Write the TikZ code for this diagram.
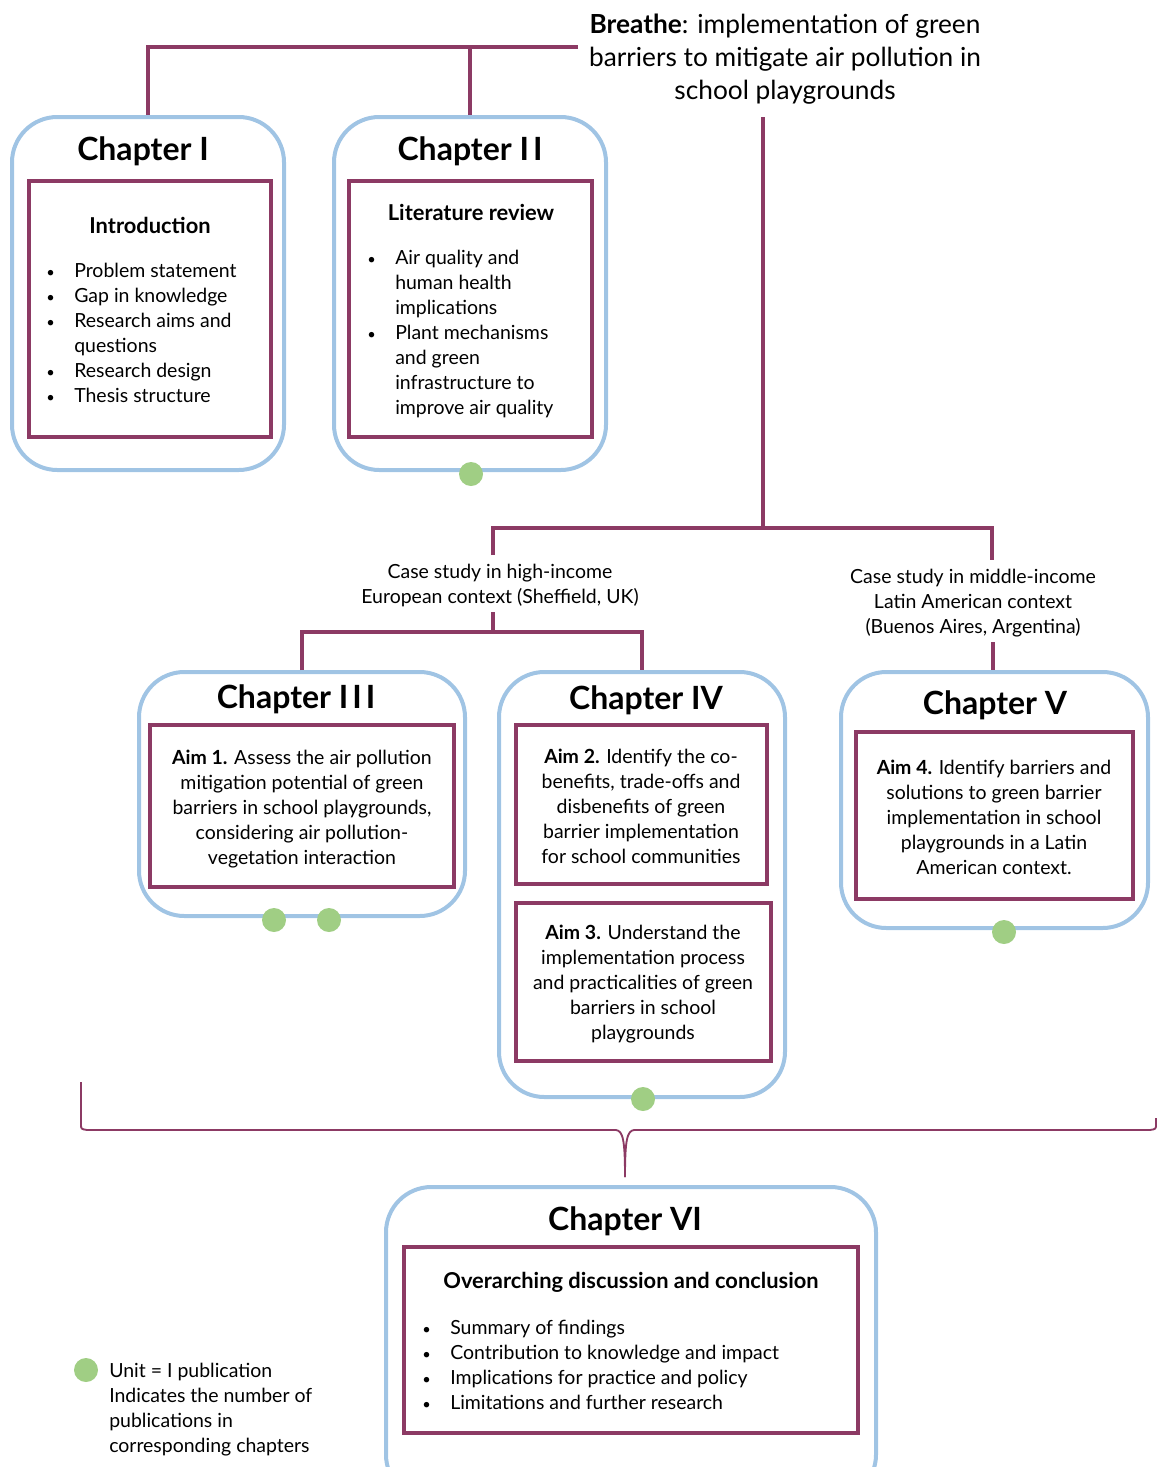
\documentclass[tikz,border=0pt]{standalone}
\usepackage{fontspec}
\setmainfont{Lato}
\usetikzlibrary{fit}
\definecolor{plum}{RGB}{140,58,100}
\definecolor{skyline}{RGB}{160,196,228}
\definecolor{leaf}{RGB}{160,206,132}
\newcommand{\bul}{\makebox[19.5pt][l]{\hspace{-1.5pt}{\fontsize{11}{11}\selectfont\textbullet}}}
\newcommand{\ind}{\hspace*{19.5pt}}
\begin{document}
\begin{tikzpicture}[x=0.75pt,y=-0.75pt,
  outerbox/.style={draw=skyline,line width=3pt,rounded corners=34pt,inner sep=0pt},
  innerbox/.style={draw=plum,line width=2.6pt,inner sep=0pt},
  conn/.style={draw=plum,line width=3pt},
  bracepath/.style={draw=plum,line width=1.4pt},
  pubdot/.style={circle,fill=leaf,minimum size=18pt,inner sep=0pt},
  chead/.style={font=\fontsize{24}{28}\selectfont\bfseries,inner sep=0pt},
  body/.style={font=\fontsize{14.6}{18.75}\selectfont,inner sep=0pt},
  bodyc/.style={body,align=center,anchor=north},
  bodyl/.style={body,align=left,anchor=north west},
  subhead/.style={font=\fontsize{16.4}{20}\selectfont\bfseries,inner sep=0pt}]
\useasboundingbox (0,0) rectangle (1157,1467);
\clip (0,0) rectangle (1157,1467);

% title
\node[font=\fontsize{19.7}{25}\selectfont,align=center,inner sep=0pt] (title) at (785,59)
  {\textbf{Breathe}: implementation of green\\barriers to mitigate air pollution in\\school playgrounds};

% chapter I
\node[outerbox,fit={(12,117) (284,470)}] (ch1) {};
\node[innerbox,fit={(29,181) (271,437)}] (in1) {};
\node[chead] (h1) at (143,151) {Chapter I};
\node[subhead] (s1) at (150,225) {Introduction};
\node[bodyl] (l1) at (48,263) {\bul Problem statement\\\bul Gap in knowledge\\\bul Research aims and\\\ind questions\\\bul Research design\\\bul Thesis structure};

% chapter II
\node[outerbox,fit={(334,117) (606,470)}] (ch2) {};
\node[innerbox,fit={(349,181) (592,437)}] (in2) {};
\node[chead] (h2) at (470,151) {Chapter I\kern3pt I};
\node[subhead] (s2) at (471,212) {Literature review};
\node[bodyl] (l2) at (369,250) {\bul Air quality and\\\ind human health\\\ind implications\\\bul Plant mechanisms\\\ind and green\\\ind infrastructure to\\\ind improve air quality};
\node[pubdot] (d2) at (471,474) {};

% chapter III
\node[outerbox,fit={(139,672) (465,916)}] (ch3) {};
\node[innerbox,fit={(150,725) (454,887)}] (in3) {};
\node[chead] (h3) at (296,699) {Chapter I\kern3pt I\kern3pt I};
\node[bodyc] (t3) at (302,750) {\textbf{Aim 1.} Assess the air pollution\\mitigation potential of green\\barriers in school playgrounds,\\considering air pollution-\\vegetation interaction};
\node[pubdot] (d3a) at (274,920) {};
\node[pubdot] (d3b) at (329,920) {};

% chapter IV
\node[outerbox,fit={(499,672) (785,1097)}] (ch4) {};
\node[innerbox,fit={(516,725) (767,884)}] (in4a) {};
\node[innerbox,fit={(516,903) (771,1061)}] (in4b) {};
\node[chead] (h4) at (646,700) {Chapter IV};
\node[bodyc] (t4a) at (641,749) {\textbf{Aim 2.} Identify the co-\\benefits, trade-offs and\\disbenefits of green\\barrier implementation\\for school communities};
\node[bodyc] (t4b) at (643,925) {\textbf{Aim 3.} Understand the\\implementation process\\and practicalities of green\\barriers in school\\playgrounds};
\node[pubdot] (d4) at (643,1099) {};

% chapter V
\node[outerbox,fit={(841,672) (1148,928)}] (ch5) {};
\node[innerbox,fit={(856,732) (1133,899)}] (in5) {};
\node[chead] (h5) at (995,705) {Chapter V};
\node[bodyc] (t5) at (994,760) {\textbf{Aim 4.} Identify barriers and\\solutions to green barrier\\implementation in school\\playgrounds in a Latin\\American context.};
\node[pubdot] (d5) at (1004,932) {};

% chapter VI
\node[outerbox,fit={(386,1187) (876,1500)}] (ch6) {};
\node[innerbox,fit={(404,1247) (858,1433)}] (in6) {};
\node[chead] (h6) at (625,1221) {Chapter VI};
\node[subhead] (s6) at (631,1282) {Overarching discussion and conclusion};
\node[bodyl] (l6) at (424,1320) {\bul Summary of findings\\\bul Contribution to knowledge and impact\\\bul Implications for practice and policy\\\bul Limitations and further research};

% case-study labels
\node[body,align=center] (cs1) at (500,585) {Case study in high-income\\European context (Sheffield, UK)};
\node[body,align=center] (cs2) at (973,603) {Case study in middle-income\\Latin American context\\(Buenos Aires, Argentina)};

% legend
\node[pubdot] (ld) at (86,1370) {};
\node[bodyl] (lt) at (109,1363) {Unit = I publication\\Indicates the number of\\publications in\\corresponding chapters};

% connectors
\coordinate (tl) at (578,47);
\coordinate (tb) at (763,117);
\coordinate (j1) at (763,528);
\coordinate (c1top) at (493,555);
\coordinate (c1bot) at (493,612);
\coordinate (j2) at (493,632);
\coordinate (c2top) at (992,560);
\coordinate (c2bot) at (993,642);
\draw[conn] (tl) -| (ch1.north);
\draw[conn] (ch2.north) -- (ch2.north |- tl);
\draw[conn] (tb) -- (j1);
\draw[conn] (c1top) |- (j1) -| (c2top);
\draw[conn] (c1bot) -- (j2);
\draw[conn] (ch3.north) |- (j2) -| (ch4.north);
\draw[conn] (c2bot) -- (c2bot |- ch5.north);

% brace gathering the chapters into chapter VI
\coordinate (bl) at (81,1082);
\coordinate (br) at (1156,1118);
\coordinate (cusp) at (625,1177);
\draw[bracepath] (bl) -- (81,1124) .. controls (81,1129) .. (87,1130) -- (616,1130)
  .. controls (623,1131) and (625,1140) .. (cusp);
\draw[bracepath] (br) -- (1156,1124) .. controls (1156,1129) .. (1150,1130) -- (634,1130)
  .. controls (627,1131) and (625,1140) .. (cusp);
\end{tikzpicture}
\end{document}
